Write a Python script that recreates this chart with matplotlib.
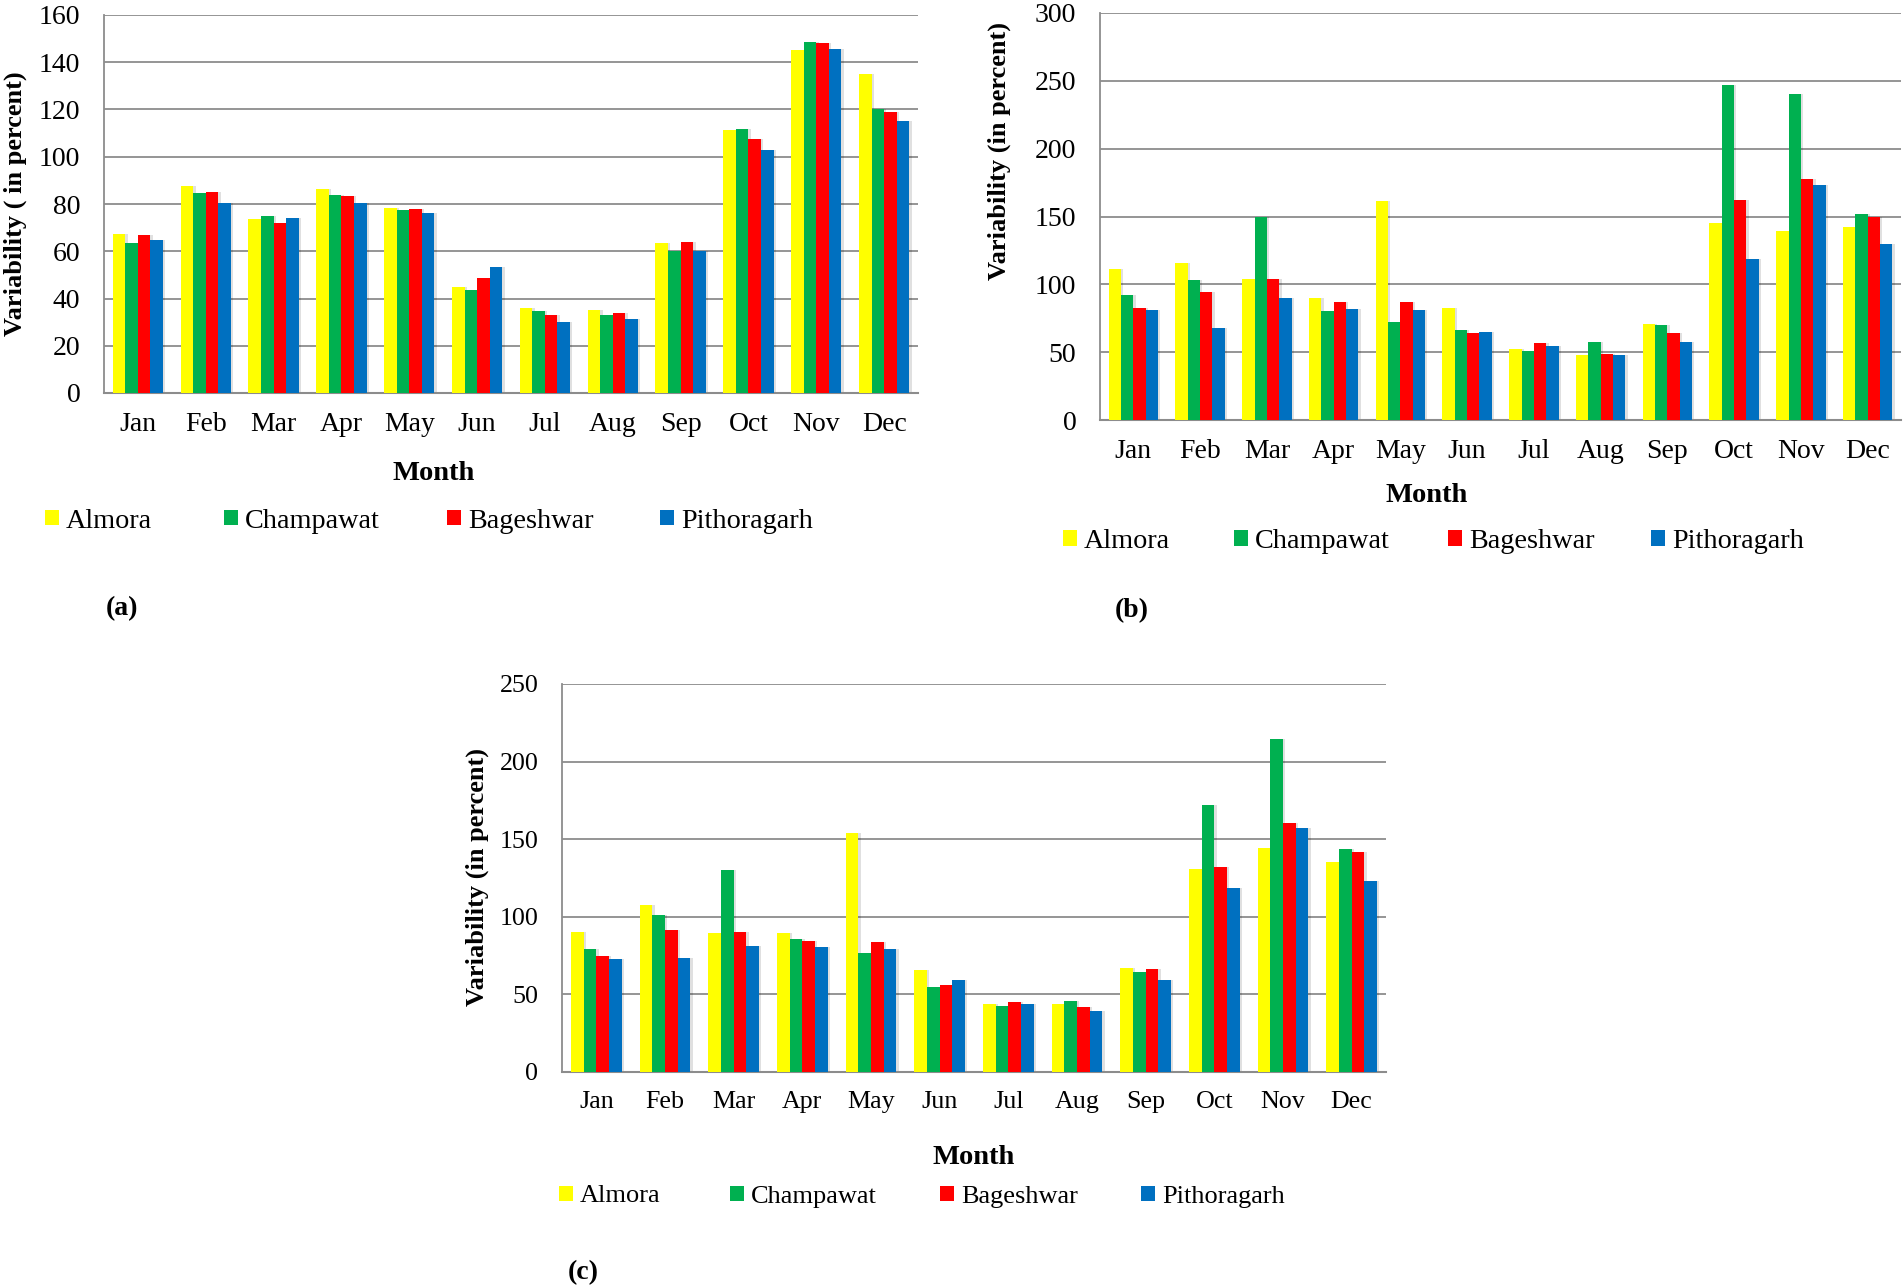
import matplotlib
matplotlib.use('agg')
import matplotlib.pyplot as plt
from matplotlib.patches import Rectangle
import numpy as np

months = ['Jan', 'Feb', 'Mar', 'Apr', 'May', 'Jun',
          'Jul', 'Aug', 'Sep', 'Oct', 'Nov', 'Dec']
stations = ['Almora', 'Champawat', 'Bageshwar', 'Pithoragarh']
colors = ['#FFFF00', '#00B050', '#FF0000', '#0070C0']

# panel (a)
a_almora = [67.2, 87.8, 73.7, 86.5, 78.1, 44.8, 35.9, 35.3, 63.5, 111.5, 145.2, 135.2]
a_champawat = [63.5, 84.5, 74.9, 83.9, 77.4, 43.5, 34.6, 33.2, 60.1, 111.8, 148.4, 120.4]
a_bageshwar = [66.8, 85.1, 72.0, 83.4, 77.9, 48.5, 32.9, 33.9, 63.8, 107.6, 148.3, 118.9]
a_pithoragarh = [64.8, 80.4, 74.0, 80.3, 76.1, 53.2, 30.1, 31.4, 60.1, 102.8, 145.4, 115.2]

# panel (b)
b_almora = [111.5, 115.6, 103.9, 89.8, 161.3, 82.5, 52.1, 47.7, 70.5, 145.2, 139.6, 142.5]
b_champawat = [91.9, 103.0, 149.3, 80.2, 72.6, 66.7, 50.6, 57.4, 70.2, 246.7, 240.0, 151.6]
b_bageshwar = [82.5, 94.0, 103.9, 86.9, 87.2, 64.4, 56.5, 48.3, 63.8, 161.8, 177.6, 149.8]
b_pithoragarh = [81.1, 67.6, 89.8, 81.7, 81.1, 64.7, 54.7, 47.7, 57.4, 118.8, 173.5, 129.4]

# panel (c)
c_almora = [90.4, 107.3, 89.4, 89.6, 153.7, 65.6, 43.8, 43.5, 67.0, 130.5, 144.3, 135.0]
c_champawat = [79.2, 100.9, 129.9, 85.4, 76.8, 55.0, 42.7, 45.6, 64.6, 171.8, 214.5, 143.8]
c_bageshwar = [74.7, 91.8, 89.9, 84.6, 83.5, 56.3, 45.1, 41.6, 66.2, 132.3, 160.6, 141.7]
c_pithoragarh = [72.6, 73.4, 81.1, 80.6, 79.2, 59.0, 43.5, 39.2, 59.2, 118.7, 156.9, 123.3]

W, H = 1904, 1287
plt.rcParams['font.family'] = 'Liberation Serif'


def fx(x):
    return x / W


def fy(y):
    return 1 - y / H


def panel(fig, box, series, ymax, step, fs, ylabel, ylab_xy, month_xy,
          leg_x, leg_y, tag, tag_xy):
    left, top, right, bottom = box
    ax = fig.add_axes([fx(left), fy(bottom), (right - left) / W, (bottom - top) / H])
    x = np.arange(len(months))
    w = 0.185
    for k, (vals, col) in enumerate(zip(series, colors)):
        # soft shadow like the spreadsheet bars
        ax.bar(x + (k - 1.5) * w + 0.035, vals, w, color='#000000', alpha=0.12,
               zorder=2, linewidth=0)
        ax.bar(x + (k - 1.5) * w, vals, w, color=col, zorder=3, linewidth=0)
    ax.set_xlim(-0.5, len(months) - 0.5)
    ax.set_ylim(0, ymax)
    ax.set_yticks(np.arange(0, ymax + 1, step))
    ax.set_xticks(x)
    ax.set_xticklabels(months)
    ax.tick_params(axis='both', length=0, labelsize=fs)
    ax.tick_params(axis='x', pad=14)
    ax.tick_params(axis='y', pad=17)
    ax.yaxis.grid(True, color='#8c8c8c', linewidth=1.3, zorder=0)
    for s in ['top', 'right']:
        ax.spines[s].set_visible(False)
    ax.spines['left'].set_color('#8c8c8c')
    ax.spines['bottom'].set_color('#8c8c8c')
    ax.spines['left'].set_linewidth(1.3)
    ax.spines['bottom'].set_linewidth(1.5)
    ax.spines['left'].set_zorder(1)

    fig.text(fx(ylab_xy[0]), fy(ylab_xy[1]), ylabel, rotation=90, ha='center',
             va='center', fontsize=19, fontweight='bold')
    fig.text(fx(month_xy[0]), fy(month_xy[1]), 'Month', ha='center',
             va='center', fontsize=20.5, fontweight='bold')

    # legend entries placed like the original (marker + label)
    for mx, name, col in zip(leg_x, stations, colors):
        fig.add_artist(Rectangle((fx(mx), fy(leg_y + 7.5)), 14 / W, 15 / H,
                                 transform=fig.transFigure, facecolor=col,
                                 edgecolor='none'))
        fig.text(fx(mx + 21), fy(leg_y + 9.5), name, ha='left', va='baseline',
                 fontsize=fs + 0.3)
    fig.text(fx(tag_xy[0]), fy(tag_xy[1]), tag, ha='center', va='center',
             fontsize=20, fontweight='bold')
    return ax


fig = plt.figure(figsize=(W / 100, H / 100), dpi=100)

panel(fig, (104, 15, 918, 393),
      [a_almora, a_champawat, a_bageshwar, a_pithoragarh],
      160, 20, 20, 'Variability ( in percent)', (15, 204), (434, 473),
      [45, 224, 447, 660], 518, '(a)', (122, 609))

panel(fig, (1100, 13, 1901, 420),
      [b_almora, b_champawat, b_bageshwar, b_pithoragarh],
      300, 50, 20, 'Variability (in percent)', (999, 151), (1427, 496),
      [1063, 1234, 1448, 1651], 538, '(b)', (1132, 611))

panel(fig, (562, 684, 1386, 1072),
      [c_almora, c_champawat, c_bageshwar, c_pithoragarh],
      250, 50, 18.7, 'Variability (in percent)', (477, 877), (974, 1157),
      [559, 730, 940, 1141], 1193, '(c)', (583, 1273))

fig.savefig('out.png', dpi=100)
